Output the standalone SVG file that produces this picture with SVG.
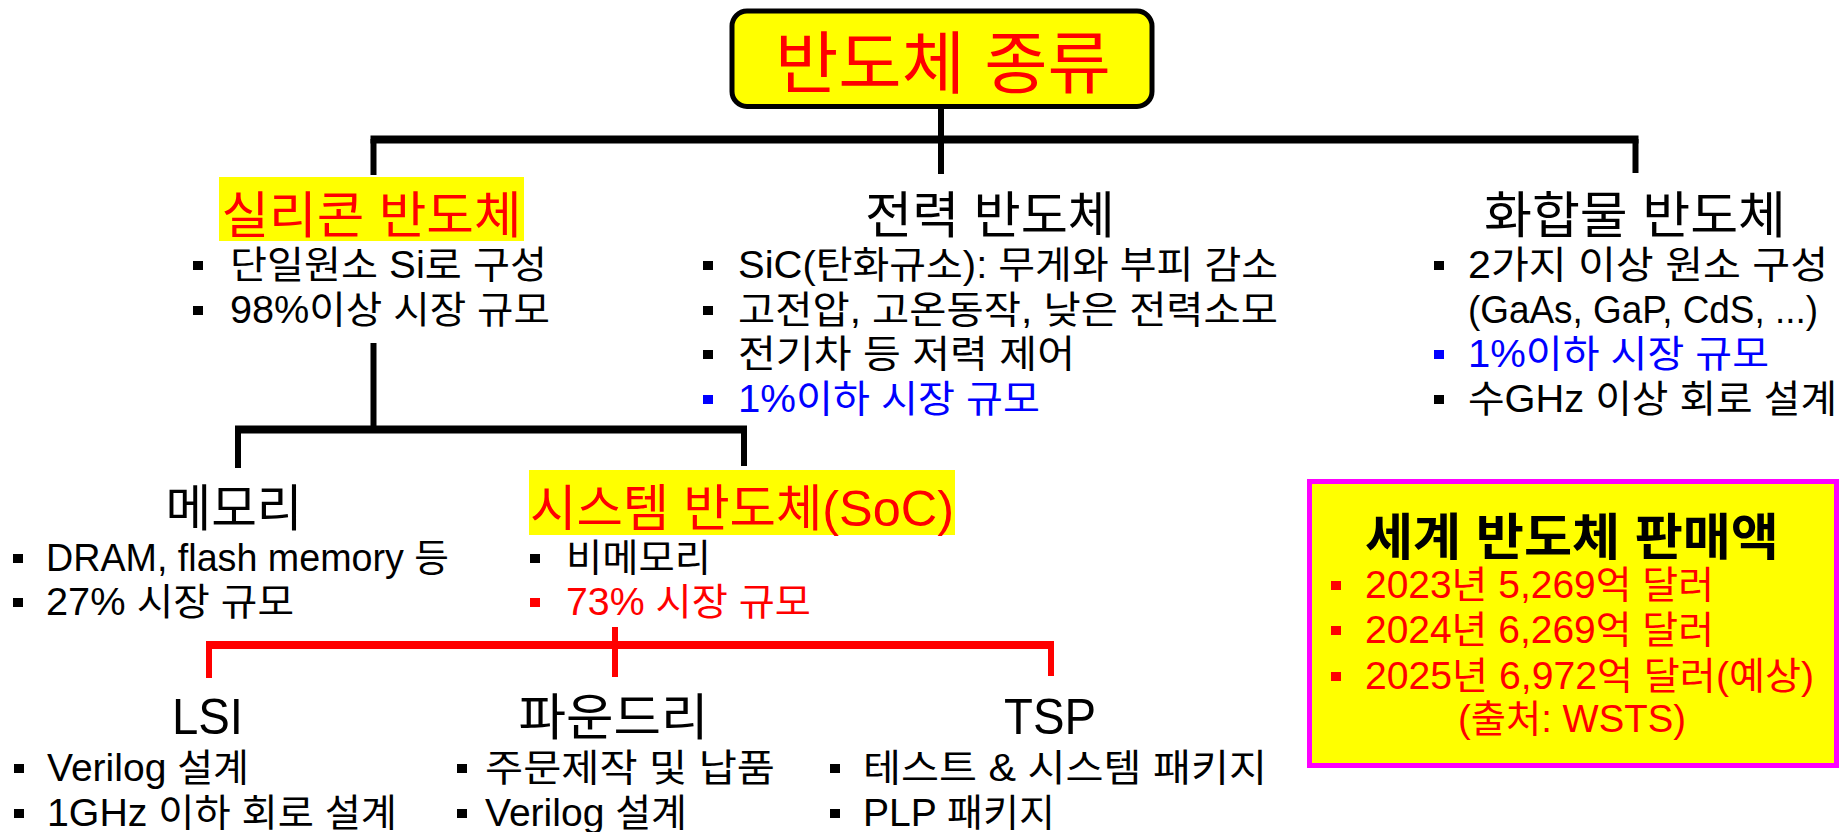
<svg xmlns="http://www.w3.org/2000/svg" width="1845" height="832" viewBox="0 0 1845 832">
<style>
  text { font-family: "Liberation Sans", "Noto Sans CJK KR", sans-serif; }
  .t { font-size: 68px; fill: #FF0000; text-anchor: middle; }
  .h { font-size: 50px; fill: #000000; text-anchor: middle; }
  .hb { font-size: 50px; font-weight: bold; fill: #000000; text-anchor: middle; }
  .b { font-size: 38px; fill: #000000; }
  .red { fill: #FF0000; }
  .blue { fill: #0000FF; }
  .mid { text-anchor: middle; }
  .hl { fill: #FFFF00; }
  .k { stroke: #000000; fill: none; }
  .r { stroke: #FF0000; fill: none; }
  .bar { stroke-width: 8; }
  .drop { stroke-width: 6; }
</style>
<rect width="1845" height="832" fill="#FFFFFF"/>

<g id="connectors">
  <line class="k drop" x1="941" y1="108" x2="941" y2="139"/>
  <line class="k bar" x1="370.5" y1="139.5" x2="1638.5" y2="139.5"/>
  <line class="k drop" x1="373.5" y1="139" x2="373.5" y2="175"/>
  <line class="k drop" x1="941" y1="139" x2="941" y2="174"/>
  <line class="k drop" x1="1635.5" y1="139" x2="1635.5" y2="173"/>

  <line class="k drop" x1="373.5" y1="343" x2="373.5" y2="430"/>
  <line class="k bar" x1="235" y1="429.5" x2="747" y2="429.5"/>
  <line class="k drop" x1="238" y1="429" x2="238" y2="468"/>
  <line class="k drop" x1="744" y1="429" x2="744" y2="466"/>

  <line class="r drop" x1="615" y1="627" x2="615" y2="677"/>
  <line class="r bar" x1="206" y1="645" x2="1054" y2="645"/>
  <line class="r drop" x1="209" y1="645" x2="209" y2="678"/>
  <line class="r drop" x1="1051" y1="645" x2="1051" y2="676"/>
</g>

<g id="root">
  <rect x="732" y="11" width="420" height="95.5" rx="15" ry="15" fill="#FFFF00" stroke="#000000" stroke-width="5"/>
  <text class="t" x="943" y="88" textLength="336" lengthAdjust="spacingAndGlyphs">반도체 종류</text>
</g>

<g id="silicon">
  <rect class="hl" x="219" y="177" width="305" height="64"/>
  <text class="h red" x="371.5" y="233" textLength="300" lengthAdjust="spacingAndGlyphs">실리콘 반도체</text>
  <rect x="193" y="261" width="10" height="9" fill="#000000"/>
  <text class="b" x="230" y="278" textLength="317" lengthAdjust="spacingAndGlyphs">단일원소 Si로 구성</text>
  <rect x="193" y="306" width="10" height="9" fill="#000000"/>
  <text class="b" x="230" y="323" textLength="320" lengthAdjust="spacingAndGlyphs">98%이상 시장 규모</text>
</g>

<g id="power">
  <text class="h" x="990" y="233" textLength="250" lengthAdjust="spacingAndGlyphs">전력 반도체</text>
  <rect x="703" y="261" width="10" height="9" fill="#000000"/>
  <text class="b" x="738" y="278" textLength="540" lengthAdjust="spacingAndGlyphs">SiC(탄화규소): 무게와 부피 감소</text>
  <rect x="703" y="306" width="10" height="9" fill="#000000"/>
  <text class="b" x="738" y="323" textLength="540" lengthAdjust="spacingAndGlyphs">고전압, 고온동작, 낮은 전력소모</text>
  <rect x="703" y="350" width="10" height="9" fill="#000000"/>
  <text class="b" x="738" y="367" textLength="337" lengthAdjust="spacingAndGlyphs">전기차 등 저력 제어</text>
  <rect x="703" y="395" width="10" height="9" fill="#0000FF"/>
  <text class="b blue" x="738" y="412" textLength="302" lengthAdjust="spacingAndGlyphs">1%이하 시장 규모</text>
</g>

<g id="compound">
  <text class="h" x="1635" y="233" textLength="302" lengthAdjust="spacingAndGlyphs">화합물 반도체</text>
  <rect x="1434" y="261" width="10" height="9" fill="#000000"/>
  <text class="b" x="1468" y="278" textLength="360" lengthAdjust="spacingAndGlyphs">2가지 이상 원소 구성</text>
  <text class="b" x="1468" y="323" textLength="350" lengthAdjust="spacingAndGlyphs">(GaAs, GaP, CdS, ...)</text>
  <rect x="1434" y="350" width="10" height="9" fill="#0000FF"/>
  <text class="b blue" x="1468" y="367" textLength="301" lengthAdjust="spacingAndGlyphs">1%이하 시장 규모</text>
  <rect x="1434" y="395" width="10" height="9" fill="#000000"/>
  <text class="b" x="1468" y="412" textLength="369" lengthAdjust="spacingAndGlyphs">수GHz 이상 회로 설계</text>
</g>

<g id="memory">
  <text class="h" x="234" y="526" textLength="137" lengthAdjust="spacingAndGlyphs">메모리</text>
  <rect x="13" y="554" width="10" height="9" fill="#000000"/>
  <text class="b" x="46" y="571" textLength="403" lengthAdjust="spacingAndGlyphs">DRAM, flash memory 등</text>
  <rect x="13" y="598" width="10" height="9" fill="#000000"/>
  <text class="b" x="46" y="615" textLength="248" lengthAdjust="spacingAndGlyphs">27% 시장 규모</text>
</g>

<g id="soc">
  <rect class="hl" x="529" y="470" width="426" height="65"/>
  <text class="h red" x="742" y="526" textLength="424" lengthAdjust="spacingAndGlyphs">시스템 반도체(SoC)</text>
  <rect x="530" y="554" width="10" height="9" fill="#000000"/>
  <text class="b" x="566" y="571" textLength="145" lengthAdjust="spacingAndGlyphs">비메모리</text>
  <rect x="530" y="598" width="10" height="9" fill="#FF0000"/>
  <text class="b red" x="566" y="615" textLength="245" lengthAdjust="spacingAndGlyphs">73% 시장 규모</text>
</g>

<g id="lsi">
  <text class="h" x="207.5" y="734" textLength="71" lengthAdjust="spacingAndGlyphs">LSI</text>
  <rect x="14" y="764" width="10" height="9" fill="#000000"/>
  <text class="b" x="47" y="781" textLength="202" lengthAdjust="spacingAndGlyphs">Verilog 설계</text>
  <rect x="14" y="809" width="10" height="9" fill="#000000"/>
  <text class="b" x="47" y="826" textLength="350" lengthAdjust="spacingAndGlyphs">1GHz 이하 회로 설계</text>
</g>

<g id="foundry">
  <text class="h" x="613.5" y="735" textLength="190" lengthAdjust="spacingAndGlyphs">파운드리</text>
  <rect x="457" y="764" width="10" height="9" fill="#000000"/>
  <text class="b" x="485" y="781" textLength="290" lengthAdjust="spacingAndGlyphs">주문제작 및 납품</text>
  <rect x="457" y="809" width="10" height="9" fill="#000000"/>
  <text class="b" x="485" y="826" textLength="202" lengthAdjust="spacingAndGlyphs">Verilog 설계</text>
</g>

<g id="tsp">
  <text class="h" x="1050" y="734" textLength="92" lengthAdjust="spacingAndGlyphs">TSP</text>
  <rect x="830" y="764" width="10" height="9" fill="#000000"/>
  <text class="b" x="863" y="781" textLength="404" lengthAdjust="spacingAndGlyphs">테스트 &amp; 시스템 패키지</text>
  <rect x="830" y="809" width="10" height="9" fill="#000000"/>
  <text class="b" x="863" y="826" textLength="192" lengthAdjust="spacingAndGlyphs">PLP 패키지</text>
</g>

<g id="sales">
  <rect x="1309.5" y="481.5" width="527" height="284" fill="#FFFF00" stroke="#FF00FF" stroke-width="5"/>
  <text class="hb" x="1572" y="555" textLength="414" lengthAdjust="spacingAndGlyphs">세계 반도체 판매액</text>
  <rect x="1331" y="581" width="10" height="9" fill="#FF0000"/>
  <text class="b red" x="1365" y="598" textLength="349" lengthAdjust="spacingAndGlyphs">2023년 5,269억 달러</text>
  <rect x="1331" y="626" width="10" height="9" fill="#FF0000"/>
  <text class="b red" x="1365" y="643" textLength="349" lengthAdjust="spacingAndGlyphs">2024년 6,269억 달러</text>
  <rect x="1331" y="672" width="10" height="9" fill="#FF0000"/>
  <text class="b red" x="1365" y="689" textLength="449" lengthAdjust="spacingAndGlyphs">2025년 6,972억 달러(예상)</text>
  <text class="b red mid" x="1572" y="732" textLength="228" lengthAdjust="spacingAndGlyphs">(출처: WSTS)</text>
</g>
</svg>
